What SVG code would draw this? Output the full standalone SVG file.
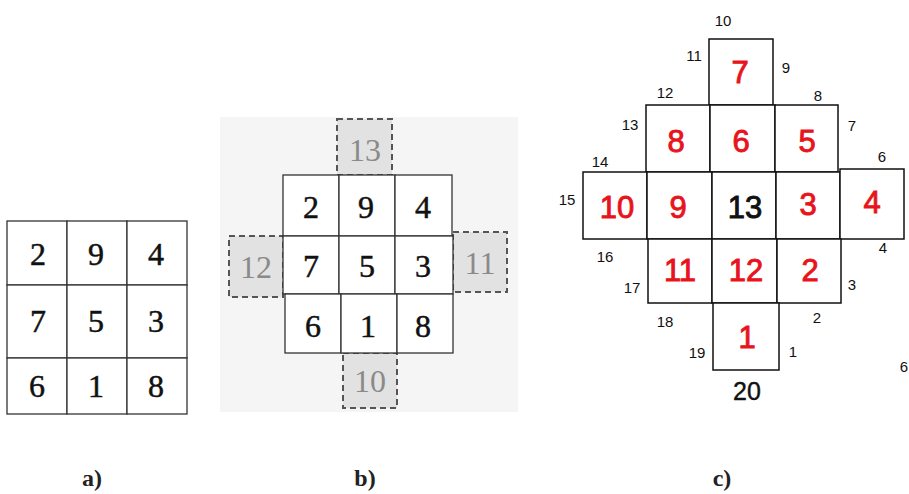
<svg xmlns="http://www.w3.org/2000/svg" width="909" height="494" viewBox="0 0 909 494">
<style>
.cell{fill:#fff;stroke:#333;stroke-width:1.3}
.ext{fill:#e2e2e2;stroke:#555;stroke-width:2;stroke-dasharray:6 4}
.tn{font-family:"Liberation Serif",serif;font-size:32px;fill:#111;stroke:#111;stroke-width:0.5;text-anchor:middle}
.tg{font-family:"Liberation Serif",serif;font-size:32px;fill:#8a8a8a;text-anchor:middle}
.cbox{fill:#fff;stroke:#111;stroke-width:1.5}
.rn{font-family:"Liberation Sans",Arial,sans-serif;font-size:31px;fill:#e8141b;stroke:#e8141b;stroke-width:0.9;text-anchor:middle}
.bn{font-family:"Liberation Sans",Arial,sans-serif;font-size:31px;fill:#111;stroke:#111;stroke-width:0.9;text-anchor:middle}
.sn{font-family:"Liberation Sans",Arial,sans-serif;font-size:15px;fill:#111;text-anchor:middle}
.lab{font-family:"Liberation Serif",serif;font-size:24px;font-weight:bold;fill:#222;text-anchor:middle}
</style>
<rect width="909" height="494" fill="#fff"/>
<g id="panel-a">
<rect class="cell" x="7" y="221" width="60" height="64"/>
<rect class="cell" x="67" y="221" width="60" height="64"/>
<rect class="cell" x="127" y="221" width="60" height="64"/>
<rect class="cell" x="7" y="285" width="60" height="73"/>
<rect class="cell" x="67" y="285" width="60" height="73"/>
<rect class="cell" x="127" y="285" width="60" height="73"/>
<rect class="cell" x="7" y="358" width="60" height="56"/>
<rect class="cell" x="67" y="358" width="60" height="56"/>
<rect class="cell" x="127" y="358" width="60" height="56"/>
<text class="tn" x="38" y="265">2</text>
<text class="tn" x="96" y="265">9</text>
<text class="tn" x="156" y="265">4</text>
<text class="tn" x="38" y="332">7</text>
<text class="tn" x="96" y="332">5</text>
<text class="tn" x="156" y="332">3</text>
<text class="tn" x="37" y="397">6</text>
<text class="tn" x="96" y="397">1</text>
<text class="tn" x="156" y="397">8</text>
</g>
<g id="panel-b">
<rect x="220" y="117" width="298" height="295" fill="#f5f5f5"/>
<rect class="ext" x="337" y="119" width="55" height="56"/>
<rect class="ext" x="229" y="236" width="54" height="61"/>
<rect class="ext" x="453" y="232" width="54" height="60"/>
<rect class="ext" x="343" y="353" width="54" height="55"/>
<rect class="cell" x="283" y="175" width="56" height="61"/>
<rect class="cell" x="339" y="175" width="56" height="61"/>
<rect class="cell" x="395" y="175" width="57" height="61"/>
<rect class="cell" x="283" y="236" width="56" height="58"/>
<rect class="cell" x="339" y="236" width="56" height="58"/>
<rect class="cell" x="395" y="236" width="58" height="58"/>
<rect class="cell" x="285" y="294" width="56" height="59"/>
<rect class="cell" x="341" y="294" width="56" height="59"/>
<rect class="cell" x="397" y="294" width="56" height="59"/>
<text class="tg" x="365" y="161">13</text>
<text class="tg" x="256" y="278">12</text>
<text class="tg" x="480" y="274">11</text>
<text class="tg" x="370" y="392">10</text>
<text class="tn" x="311" y="218">2</text>
<text class="tn" x="366" y="218">9</text>
<text class="tn" x="423" y="218">4</text>
<text class="tn" x="311" y="277">7</text>
<text class="tn" x="367" y="277">5</text>
<text class="tn" x="423" y="277">3</text>
<text class="tn" x="313" y="337">6</text>
<text class="tn" x="368" y="337">1</text>
<text class="tn" x="423" y="337">8</text>
</g>
<g id="panel-c">
<rect class="cbox" x="709" y="39" width="64" height="66"/>
<rect class="cbox" x="646" y="105" width="64" height="67"/>
<rect class="cbox" x="710" y="105" width="65" height="67"/>
<rect class="cbox" x="775" y="105" width="63" height="67"/>
<rect class="cbox" x="583" y="172" width="64" height="67"/>
<rect class="cbox" x="647" y="172" width="65" height="67"/>
<rect class="cbox" x="712" y="172" width="64" height="67"/>
<rect class="cbox" x="776" y="172" width="64" height="67"/>
<rect class="cbox" x="840" y="169" width="64" height="70"/>
<rect class="cbox" x="648" y="239" width="64" height="64"/>
<rect class="cbox" x="712" y="239" width="65" height="64"/>
<rect class="cbox" x="777" y="239" width="64" height="64"/>
<rect class="cbox" x="713" y="303" width="66" height="67"/>
<text class="rn" x="740" y="83">7</text>
<text class="rn" x="676" y="152">8</text>
<text class="rn" x="741" y="152">6</text>
<text class="rn" x="807" y="152">5</text>
<text class="rn" x="617" y="218">10</text>
<text class="rn" x="678" y="218">9</text>
<text class="bn" x="745" y="218">13</text>
<text class="rn" x="808" y="215">3</text>
<text class="rn" x="872" y="213">4</text>
<text class="rn" x="680" y="281">11</text>
<text class="rn" x="746" y="281">12</text>
<text class="rn" x="810" y="281">2</text>
<text class="rn" x="747" y="348">1</text>
<text class="sn" x="723" y="26">10</text>
<text class="sn" x="694" y="61">11</text>
<text class="sn" x="786" y="73">9</text>
<text class="sn" x="665" y="98">12</text>
<text class="sn" x="818" y="101">8</text>
<text class="sn" x="630" y="130">13</text>
<text class="sn" x="852" y="131">7</text>
<text class="sn" x="600" y="167">14</text>
<text class="sn" x="882" y="162">6</text>
<text class="sn" x="567" y="205">15</text>
<text class="sn" x="605" y="262">16</text>
<text class="sn" x="883" y="253">4</text>
<text class="sn" x="632" y="293">17</text>
<text class="sn" x="852" y="290">3</text>
<text class="sn" x="665" y="327">18</text>
<text class="sn" x="817" y="323">2</text>
<text class="sn" x="697" y="358">19</text>
<text class="sn" x="793" y="357">1</text>
<text class="sn" x="908" y="372" style="text-anchor:end">6</text>
<text class="bn" x="747" y="400" style="font-size:25px;stroke-width:0.4">20</text>
</g>
<g id="labels">
<text class="lab" x="92" y="486">a)</text>
<text class="lab" x="365" y="486">b)</text>
<text class="lab" x="722" y="486">c)</text>
</g>
</svg>
